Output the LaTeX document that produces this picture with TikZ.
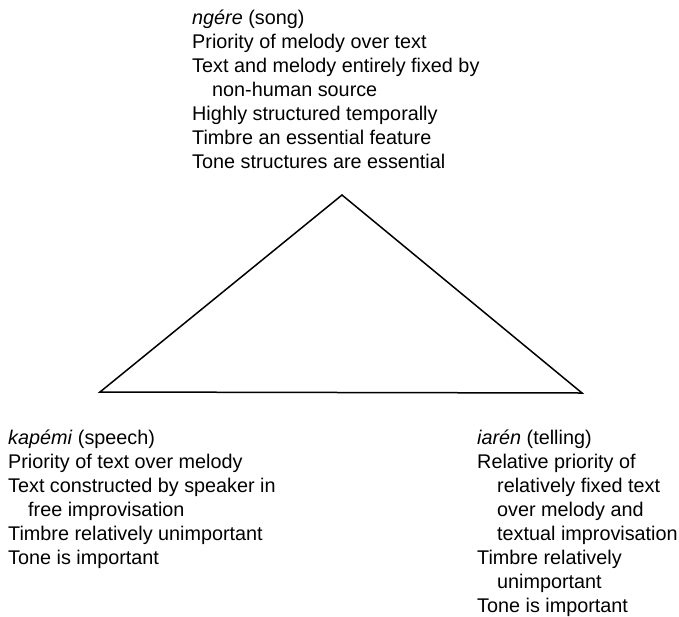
\documentclass[tikz,border=0pt]{standalone}
\usepackage{fontspec}
\setmainfont{Liberation Sans}
\newcommand{\firstln}{\rule{0pt}{16pt}}
\newcommand{\ind}{\hspace*{20pt}}
\begin{document}
\begin{tikzpicture}[x=1pt,y=-1pt,
  lbl/.style={anchor=north west, align=left, inner sep=0pt,
    font=\fontsize{19.8}{24}\selectfont},
  tri/.style={draw, line width=1.5pt, line join=miter}]
\useasboundingbox (0,0) rectangle (679,616);
\node[lbl] (song) at (192,8) {\firstln\textit{ngére} (song)\\
Priority of melody over text\\
Text and melody entirely fixed by\\
\ind non-human source\\
Highly structured temporally\\
Timbre an essential feature\\
Tone structures are essential};
\node[lbl] (speech) at (8,428) {\firstln\textit{kapémi} (speech)\\
Priority of text over melody\\
Text constructed by speaker in\\
\ind free improvisation\\
Timbre relatively unimportant\\
Tone is important};
\node[lbl] (telling) at (477,428) {\firstln\textit{iarén} (telling)\\
Relative priority of\\
\ind relatively fixed text\\
\ind over melody and\\
\ind textual improvisation\\
Timbre relatively\\
\ind unimportant\\
Tone is important};
\coordinate (apex) at (342,195);
\coordinate (left) at (100,392);
\coordinate (right) at (582,393);
\draw[tri] (apex) -- (right) -- (left) -- cycle;
\end{tikzpicture}
\end{document}
